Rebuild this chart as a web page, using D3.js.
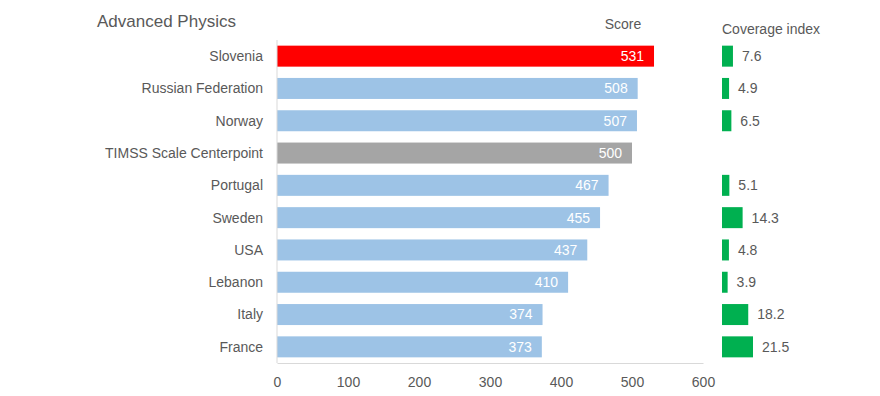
<!DOCTYPE html>
<html>
<head>
<meta charset="utf-8">
<script src="https://cdn.jsdelivr.net/npm/d3@7"></script>
<style>
  body { margin: 0; background: #fff; }
  text { font-family: "Liberation Sans", Arial, sans-serif; }
</style>
</head>
<body>
<svg id="vis" width="880" height="396"></svg>
<script>
// chart data
const countries = ["Slovenia", "Russian Federation", "Norway", "TIMSS Scale Centerpoint",
  "Portugal", "Sweden", "USA", "Lebanon", "Italy", "France"];
const scores = [531, 508, 507, 500, 467, 455, 437, 410, 374, 373];
const coverage = [7.6, 4.9, 6.5, null, 5.1, 14.3, 4.8, 3.9, 18.2, 21.5];
const scoreTicks = [0, 100, 200, 300, 400, 500, 600];

const textColor = "#595959";
const fs = 14;

const barColor = function(d) {
  if (d == "Slovenia") return "#ff0000";
  if (d == "TIMSS Scale Centerpoint") return "#a5a5a5";
  return "#9dc3e6";
};

const svg = d3.select("#vis");

let x = d3.scaleLinear().domain([0, 600]).range([277, 703]);
let y = d3.scaleBand().domain(countries).range([40, 363]).paddingInner(0.35).paddingOuter(0.175);
let cx = d3.scaleLinear().domain([0, 21.5]).range([722, 753]);

// title
svg.append("text")
  .attr("x", 97).attr("y", 27)
  .attr("font-size", 17).attr("fill", textColor)
  .text("Advanced Physics");

svg.append("text")
  .attr("x", 623).attr("y", 29)
  .attr("text-anchor", "middle")
  .attr("font-size", fs).attr("fill", textColor)
  .text("Score");

svg.append("text")
  .attr("x", 722).attr("y", 34)
  .attr("font-size", fs).attr("fill", textColor)
  .text("Coverage index");

// score bars
let rows = svg.append("g").selectAll("g")
  .data(countries)
  .enter().append("g");

rows.append("rect")
  .attr("x", x(0))
  .attr("y", function(d) { return y(d); })
  .attr("width", function(d, i) { return x(scores[i]) - x(0); })
  .attr("height", y.bandwidth())
  .attr("fill", barColor);

rows.append("text")
  .attr("x", function(d, i) { return x(scores[i]) - 10; })
  .attr("y", function(d) { return y(d) + y.bandwidth() / 2; })
  .attr("dy", "0.35em")
  .attr("text-anchor", "end")
  .attr("font-size", fs).attr("fill", "#fff")
  .text(function(d, i) { return scores[i]; });

rows.append("text")
  .attr("x", 263)
  .attr("y", function(d) { return y(d) + y.bandwidth() / 2; })
  .attr("dy", "0.35em")
  .attr("text-anchor", "end")
  .attr("font-size", fs).attr("fill", textColor)
  .text(function(d) { return d; });

// coverage bars
let cov = svg.append("g").selectAll("g")
  .data(countries.filter(function(d, i) { return coverage[i] != null; }))
  .enter().append("g");

cov.append("rect")
  .attr("x", cx(0))
  .attr("y", function(d) { return y(d); })
  .attr("width", function(d) { return cx(coverage[countries.indexOf(d)]) - cx(0); })
  .attr("height", y.bandwidth())
  .attr("fill", "#00b050");

cov.append("text")
  .attr("x", function(d) { return cx(coverage[countries.indexOf(d)]) + 9; })
  .attr("y", function(d) { return y(d) + y.bandwidth() / 2; })
  .attr("dy", "0.35em")
  .attr("font-size", fs).attr("fill", textColor)
  .text(function(d) { return coverage[countries.indexOf(d)].toFixed(1); });

// axes
let xAxis = svg.append("g")
  .attr("transform", "translate(0, 363)")
  .call(d3.axisBottom(x).tickValues(scoreTicks).tickSize(0).tickPadding(14));
xAxis.select(".domain").attr("stroke", "#d9d9d9");
xAxis.selectAll("text").attr("font-size", fs).attr("fill", textColor)
  .style("font-family", "Liberation Sans, Arial, sans-serif");

svg.append("line")
  .attr("x1", x(0)).attr("x2", x(0))
  .attr("y1", 40).attr("y2", 363)
  .attr("stroke", "#d9d9d9");
</script>
</body>
</html>
